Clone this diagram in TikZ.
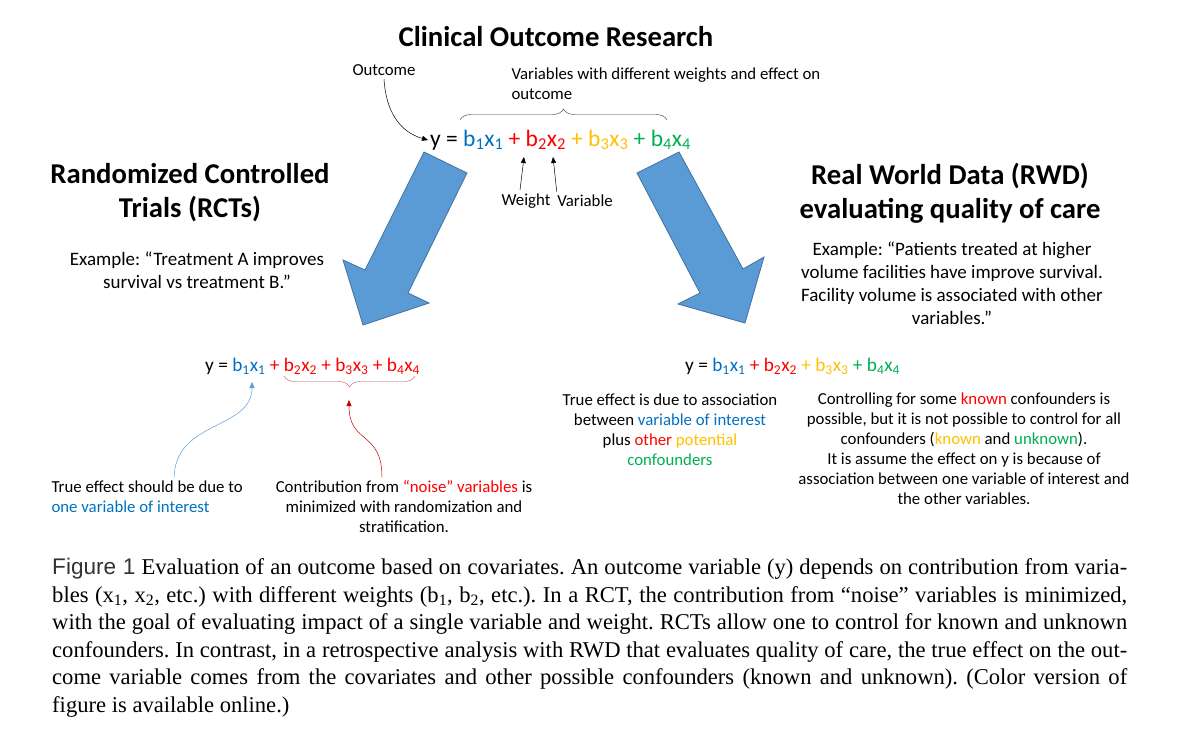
\documentclass[tikz,border=0pt]{standalone}
\usepackage{fontspec}
\setmainfont{Carlito}
\newfontfamily\capserif{Liberation Serif}
\newfontfamily\capsans{Liberation Sans}
\usepackage{tikz}
\usetikzlibrary{arrows.meta, positioning, decorations.pathreplacing}
\frenchspacing

% one term b_i x_i and a whole equation line
\newcommand{\bxterm}[2]{\textcolor{#1}{b\textsubscript{#2}x\textsubscript{#2}}}
\newcommand{\eqline}[4]{y = \bxterm{#1}{1} \textcolor{#2}{+ \bxterm{#2}{2}} \textcolor{#3}{+ \bxterm{#3}{3}} \textcolor{#4}{+ \bxterm{#4}{4}}}

\begin{document}
\begin{tikzpicture}[x=1pt, y=-1pt, >=Stealth, font=\fontsize{16.8}{20}\selectfont,
    headline/.style={font=\bfseries\fontsize{28.7}{34}\selectfont, align=center},
    bodytext/.style={font=\fontsize{19}{23}\selectfont, align=center},
    smalltext/.style={font=\fontsize{16.8}{20}\selectfont, align=center},
    eqbig/.style={font=\fontsize{23.5}{28}\selectfont, inner sep=2pt},
    eqsmall/.style={font=\fontsize{19.3}{24}\selectfont, inner sep=2pt},
    blockarrow/.style={fill=arrowfill, draw=arrowline, line width=0.8pt, line join=miter},
    pointer/.style={-{Triangle[length=6pt, width=5pt]}, line width=0.5pt}]
    % Define local colors
    \definecolor{pblue}{RGB}{0, 112, 192} \definecolor{pred}{RGB}{255, 0, 0}
    \definecolor{pyellow}{RGB}{255, 192, 0} \definecolor{pgreen}{RGB}{0, 176, 80}
    \definecolor{arrowfill}{RGB}{91, 155, 213} \definecolor{arrowline}{RGB}{65, 113, 156}
    \definecolor{darkred}{RGB}{192, 0, 0} \definecolor{bracered}{RGB}{200, 80, 80}

    \useasboundingbox (0, 0) rectangle (1200, 739);

    % TOP: title and general equation
    \node[headline] (ttl) at (556, 37) {Clinical Outcome Research};
    \node[smalltext] (outcome) at (384, 70) {Outcome};
    \node[smalltext, align=left, anchor=west] (varlbl) at (508, 84) {Variables with different weights and effect on\\outcome};
    \node[eqbig, anchor=west] (eqtop) at (428, 140) {\eqline{pblue}{pred}{pyellow}{pgreen}};
    \draw[black!80, thin, decorate, decoration={brace, amplitude=11pt}] (460, 120) -- (667, 120);
    \draw[pointer] (outcome.south) .. controls (386, 112) and (400, 132) .. (eqtop.west);

    % Weight / Variable pointers
    \foreach \name/\txt/\xpos in {weight/Weight/526, variable/Variable/585} {
        \node[smalltext] (\name) at (\xpos, 201) {\txt};
    }
    \coordinate (wpt) at (524, 157);
    \coordinate (vpt) at (553, 157);
    \draw[pointer] ([xshift=-6pt]weight.north) -- (wpt);
    \draw[pointer] ([xshift=3pt]variable.north west) -- (vpt);

    % LEFT: RCTs
    \node[headline] (rct) at (190, 193) {Randomized Controlled\\Trials (RCTs)};
    \node[bodytext] (rctex) at (197, 270) {Example: “Treatment A improves\\survival vs treatment B.”};
    \draw[blockarrow] (424, 152) -- (467, 173) -- (408, 293) -- (429, 303) -- (363, 325) -- (343, 260) -- (365, 270) -- cycle;

    % RIGHT: RWD
    \node[headline] (rwd) at (950, 193) {Real World Data (RWD)\\evaluating quality of care};
    \node[bodytext] (rwdex) at (952, 283) {Example: “Patients treated at higher\\volume facilities have improve survival.\\Facility volume is associated with other\\variables.”};
    \draw[blockarrow] (637, 173) -- (679, 152) -- (743, 269) -- (764, 257) -- (745, 323) -- (678, 304) -- (700, 293) -- cycle;

    % LOWER LEFT: one variable of interest vs noise
    \node[eqsmall, anchor=west] (eqrct) at (203, 366) {\eqline{pblue}{pred}{pred}{pred}};
    \draw[bracered, thin, decorate, decoration={brace, amplitude=11pt}] (415, 376) -- (284, 376);
    \coordinate (b1pt) at (252, 382);
    \coordinate (bracetip) at (349, 400);
    \node[smalltext, align=left, anchor=west] (trueeff) at (48, 497) {True effect should be due to\\\textcolor{pblue}{one variable of interest}};
    \node[smalltext] (noise) at (404, 507) {Contribution from \textcolor{pred}{“noise” variables} is\\minimized with randomization and\\stratification.};
    \draw[pointer, arrowfill] ([xshift=27pt]trueeff.north) .. controls (175, 420) and (252, 430) .. (b1pt);
    \draw[pointer, darkred] ([xshift=-22pt]noise.north) .. controls (382, 430) and (349, 445) .. (bracetip);

    % LOWER RIGHT: confounders
    \node[eqsmall, anchor=west] (eqrwd) at (683, 366) {\eqline{pblue}{pred}{pyellow}{pgreen}};
    \node[smalltext] (assoc) at (670, 430) {True effect is due to association\\between \textcolor{pblue}{variable of interest}\\plus \textcolor{pred}{other} \textcolor{pyellow}{potential}\\\textcolor{pgreen}{confounders}};
    \node[smalltext] (control) at (964, 449) {Controlling for some \textcolor{pred}{known} confounders is\\possible, but it is not possible to control for all\\confounders (\textcolor{pyellow}{known} and \textcolor{pgreen}{unknown}).\\It is assume the effect on y is because of\\association between one variable of interest and\\the other variables.};

    % CAPTION
    \node[anchor=north west, inner sep=0pt, text width=1075pt, align=justify,
          font=\capserif\fontsize{22.6}{27.6}\selectfont] (caption) at (52, 558)
        {{\capsans\color{black!80}Figure 1} Evaluation of an outcome based on covariates. An outcome variable (y) depends on contribution from varia-\linebreak
         bles (x\textsubscript{1}, x\textsubscript{2}, etc.) with different weights (b\textsubscript{1}, b\textsubscript{2}, etc.). In a RCT, the contribution from “noise” variables is minimized,\linebreak
         with the goal of evaluating impact of a single variable and weight. RCTs allow one to control for known and unknown\linebreak
         confounders. In contrast, in a retrospective analysis with RWD that evaluates quality of care, the true effect on the out-\linebreak
         come variable comes from the covariates and other possible confounders (known and unknown). (Color version of\linebreak
         figure is available online.)};
\end{tikzpicture}
\end{document}
